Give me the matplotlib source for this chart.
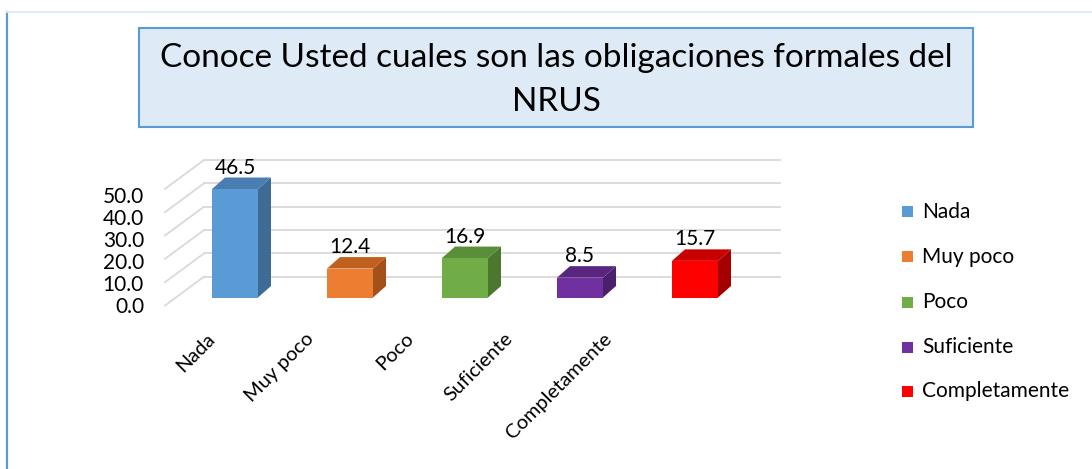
import matplotlib
matplotlib.use("Agg")
import matplotlib.pyplot as plt
from matplotlib.patches import Rectangle, Polygon
from matplotlib.lines import Line2D

categories = ["Nada", "Muy poco", "Poco", "Suficiente", "Completamente"]
values = [46.5, 12.4, 16.9, 8.5, 15.7]
value_labels = ["46.5", "12.4", "16.9", "8.5", "15.7"]
ticks = [0, 10, 20, 30, 40, 50]
tick_labels = ["0.0", "10.0", "20.0", "30.0", "40.0", "50.0"]
title_lines = ["Conoce Usted cuales son las obligaciones formales del", "NRUS"]

front_colors = ["#5B9BD5", "#ED7D31", "#70AD47", "#7030A0", "#FF0000"]
top_colors = ["#4A7EB2", "#C0601E", "#5A8E38", "#58257F", "#C80000"]
side_colors = ["#3E6A96", "#A4501A", "#4B772F", "#4A1F6C", "#A50000"]

W, H = 1092, 469
FONT = ["Lato", "DejaVu Sans"]
plt.rcParams["font.family"] = FONT
FS = 15

fig = plt.figure(figsize=(W / 100, H / 100), dpi=100)

# layout: pixel mapping (x px for category 0, px per category; y px of value 0, px per unit)
CX0, CSTEP = 235.0, 115.0
VY0, VSCALE = 297.5, 2.333

ax = fig.add_axes([0, 0, 1, 1])
ax.set_xlim((0 - CX0) / CSTEP, (W - CX0) / CSTEP)
ax.set_ylim((VY0 - H) / VSCALE, (VY0 - 0) / VSCALE)
ax.axis("off")

def px_x(p):
    return (p - CX0) / CSTEP

def px_dy(d):
    return d / VSCALE

BAR_W = 46.0 / CSTEP
DX = 13.0 / CSTEP
DY = px_dy(11.5)
BACK_X0, BACK_X1 = px_x(204), px_x(780)
BACK_DY = px_dy(20.8)
FRONT_X = px_x(165)
FRONT_DY = px_dy(-8.0)
grid_c = "#D9D9D9"

# gridlines (back wall + side wall)
for g in ticks:
    ax.add_line(Line2D([BACK_X0, BACK_X1], [g + BACK_DY, g + BACK_DY], color=grid_c, lw=1.3, zorder=1))
    ax.add_line(Line2D([FRONT_X, BACK_X0], [g + FRONT_DY, g + BACK_DY], color=grid_c, lw=1.3, zorder=1))

# tick labels
for g, t in zip(ticks, tick_labels):
    ax.text(px_x(144), g * 0.943 - 3.94, t, ha="right", va="center", fontsize=FS, color="black")

# 3D-like bars
for i, (v, fc, tc, sc) in enumerate(zip(values, front_colors, top_colors, side_colors)):
    l, r = i - BAR_W / 2, i + BAR_W / 2
    ax.add_patch(Polygon([(r, 0), (r + DX, DY), (r + DX, v + DY), (r, v)], closed=True,
                         facecolor=sc, edgecolor="none", zorder=3))
    ax.add_patch(Polygon([(l, v), (r, v), (r + DX, v + DY), (l + DX, v + DY)], closed=True,
                         facecolor=tc, edgecolor="none", zorder=3))
    ax.add_patch(Rectangle((l, 0), BAR_W, v, facecolor=fc, edgecolor="none", zorder=4))
    ax.text(i, v + DY + px_dy(4), value_labels[i], ha="center", va="baseline", fontsize=FS,
            color="black", zorder=5)

# category labels
for i, c in enumerate(categories):
    ax.text(px_x(218 + 99.2 * i), px_dy(VY0 - 330), c, rotation=45, ha="right", va="top",
            fontsize=FS - 0.5, color="black")

# chart frame (left and top edges)
fig.add_artist(Line2D([7 / W, 7 / W], [0, 1 - 12.5 / H], color="#5B9BD5", lw=1.6))
fig.add_artist(Line2D([6 / W, 1], [1 - 12.5 / H, 1 - 12.5 / H], color="#DDEBF7", lw=1.3))

# title box
fig.add_artist(Rectangle((139 / W, 1 - 127 / H), 834 / W, 99 / H, transform=fig.transFigure,
                         facecolor="#DEEAF6", edgecolor="#5B9BD5", lw=1.5))
for line, yc in zip(title_lines, [58, 102]):
    fig.text(556 / W, 1 - yc / H, line, ha="center", va="center", fontsize=24, color="black")

# legend
leg_y = [212, 257, 302, 347, 391]
for c, col, y in zip(categories, front_colors, leg_y):
    fig.add_artist(Rectangle((902 / W, 1 - (y + 5.5) / H), 11 / W, 11 / H,
                             transform=fig.transFigure, facecolor=col, edgecolor="none"))
    fig.text(922 / W, 1 - y / H, c, ha="left", va="center", fontsize=FS, color="black")

fig.savefig("out.png", dpi=100)
